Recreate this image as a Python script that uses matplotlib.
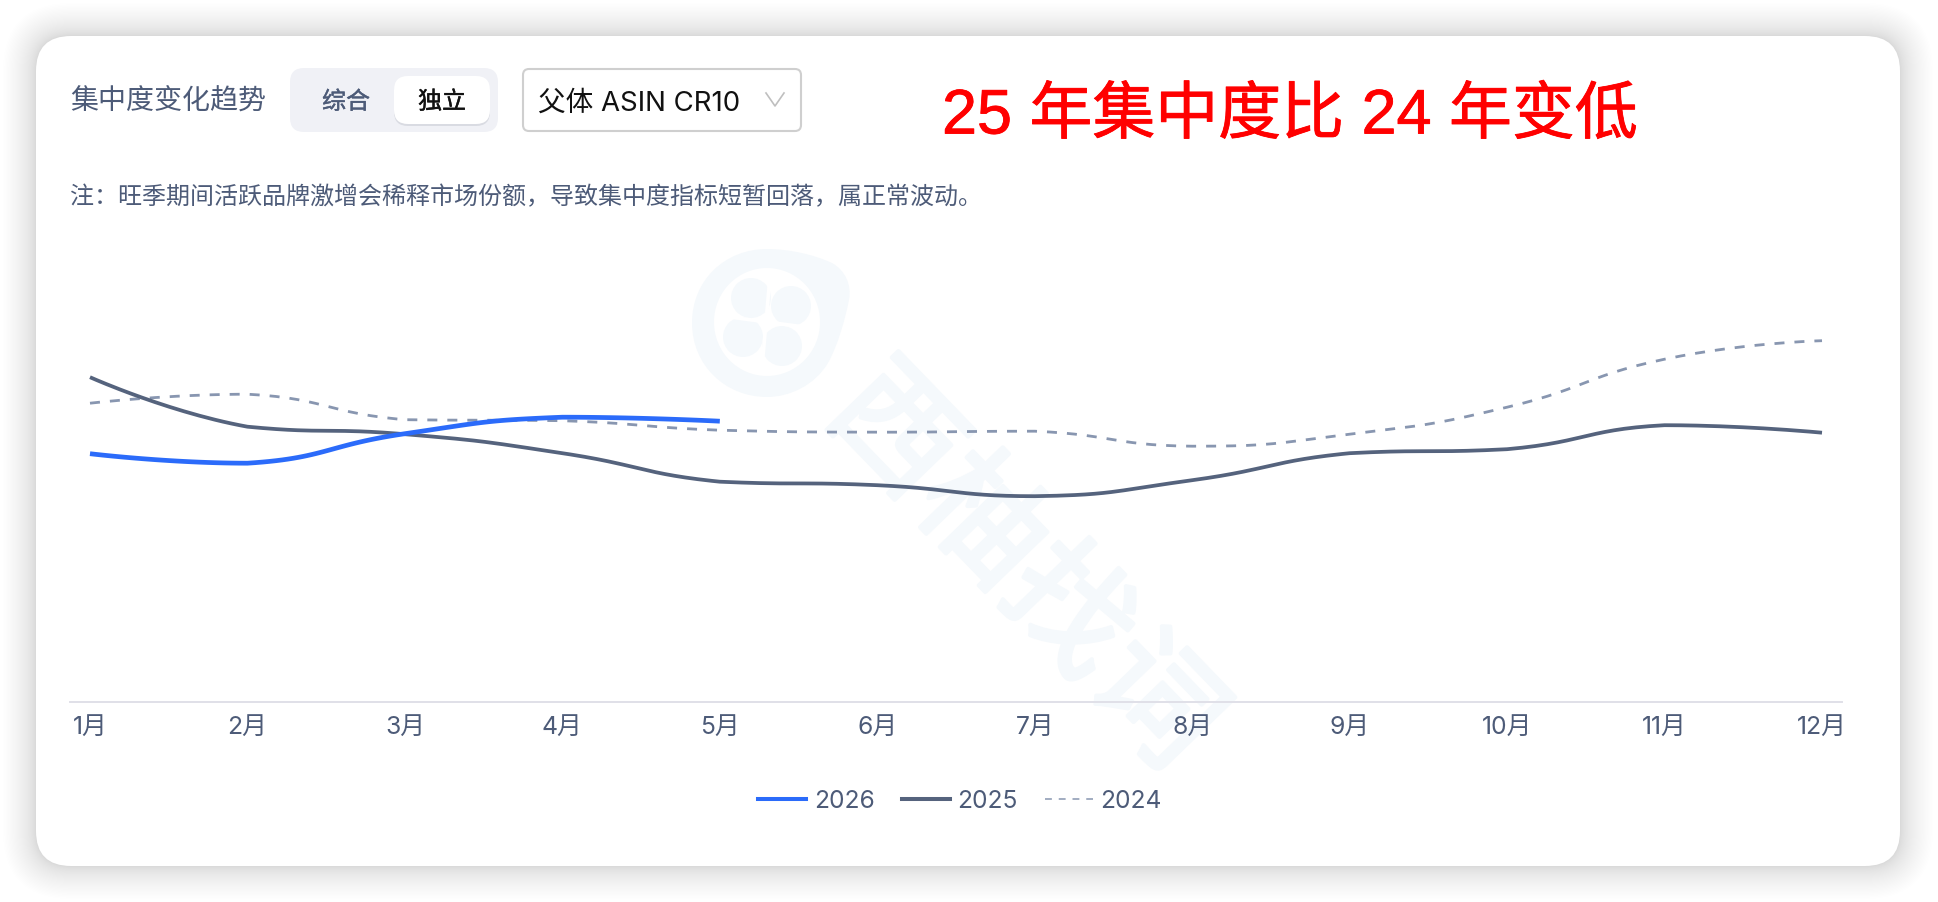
import numpy as np
import matplotlib
matplotlib.use('Agg')
import matplotlib.pyplot as plt
import matplotlib.patheffects as pe
from matplotlib.patches import FancyBboxPatch, Ellipse, PathPatch
from matplotlib.path import Path
from matplotlib.lines import Line2D

months = ['1月', '2月', '3月', '4月', '5月', '6月', '7月', '8月', '9月', '10月', '11月', '12月']
vals_2026 = [49.6, 47.7, 53.6, 56.9, 56.1]
vals_2025 = [64.9, 55.0, 53.5, 49.7, 44.0, 43.3, 41.1, 44.3, 49.7, 50.5, 55.3, 53.8]
vals_2024 = [59.7, 61.5, 56.4, 56.2, 54.3, 53.9, 54.1, 51.1, 53.5, 58.9, 68.5, 72.2]
year_labels = ['2026', '2025', '2024']

CJK = ['Inter', 'Noto Sans CJK SC', 'DejaVu Sans']
SLATE = '#4d5b78'
BLUE = '#2b6bfa'
DARK = '#55637d'
DASH = '#8896b0'
MARK = '#f5f9fc'


# same idea as a smooth line in a web chart: bezier between the monthly values
def smooth(vals, s=0.5, n=30):
    vals = np.array(vals, dtype=float)
    xs, ys = [], []
    for i in range(len(vals) - 1):
        y0, y1 = vals[i], vals[i + 1]
        m0 = 0 if i == 0 else (y1 - vals[i - 1]) / 2
        m1 = 0 if i == len(vals) - 2 else (vals[i + 2] - y0) / 2
        lo, hi = min(y0, y1), max(y0, y1)
        c0 = np.clip(y0 + s * m0, lo, hi)
        c1 = np.clip(y1 - s * m1, lo, hi)
        x_c0 = i + (0 if i == 0 else s)
        x_c1 = i + 1 - (0 if i == len(vals) - 2 else s)
        t = np.linspace(0, 1, n)
        xs.extend((1-t)**3*i + 3*(1-t)**2*t*x_c0 + 3*(1-t)*t**2*x_c1 + t**3*(i+1))
        ys.extend((1-t)**3*y0 + 3*(1-t)**2*t*c0 + 3*(1-t)*t**2*c1 + t**3*y1)
    return xs, ys


def rbox(bg, x0, y0, x1, y1, r, **kw):
    p = FancyBboxPatch((x0, y0), x1 - x0, y1 - y0,
                       boxstyle=f'round,pad=0,rounding_size={r}', **kw)
    bg.add_patch(p)
    return p


def heavier(color, w):
    return [pe.withStroke(linewidth=w, foreground=color)]


fig = plt.figure(figsize=(19.38, 9.02), dpi=100, facecolor='white')

# page layer in pixel coordinates
bg = fig.add_axes([0, 0, 1, 1], zorder=0)
bg.set_xlim(0, 1938)
bg.set_ylim(902, 0)
bg.axis('off')

# card with its shadow, steps packed near the edge so it fades out softly
for i in range(40, 0, -1):
    k = 33 * (i / 40) ** 1.7
    rbox(bg, 36 - k, 36 - k, 1900 + k, 866 + k, 35 + k, fc='black', ec='none', alpha=0.0048)
rbox(bg, 36, 36, 1900, 866, 35, fc='white', ec='none')

# watermark
verts = [(692, 323), (692, 280), (725, 249), (767, 249), (790, 249), (815, 255), (832, 263),
         (845, 270), (852, 285), (849, 300), (845, 320), (838, 345), (828, 363),
         (815, 385), (790, 397), (767, 397), (725, 397), (692, 365), (692, 323)]
codes = [Path.MOVETO] + [Path.CURVE4] * 18
bg.add_patch(PathPatch(Path(verts, codes), fc=MARK, ec='none'))
bg.add_patch(Ellipse((767, 322), 106, 108, fc='white', ec='none'))
for lx, ly in [(751, 298), (791, 306), (743, 337), (782, 346)]:
    bg.add_patch(Ellipse((lx, ly), 40, 40, fc=MARK, ec='none'))
bg.plot([770, 762], [276, 368], color='white', lw=2.6)
bg.plot([722, 812], [316, 328], color='white', lw=2.6)
bg.text(1021, 570, '西柚找词', rotation=-46, rotation_mode='anchor', ha='center', va='center',
        fontsize=90, color=MARK, family=CJK, path_effects=heavier(MARK, 3))

# header widgets
bg.text(70, 102.5, '集中度变化趋势', fontsize=20.2, color=SLATE, va='center', family=CJK)
rbox(bg, 290, 68, 498, 132, 14, fc='#f0f1f6', ec='none')
rbox(bg, 394, 78, 490, 126, 14, fc='#d9dbe2', ec='none')
rbox(bg, 394, 76, 490, 124, 14, fc='white', ec='none')
bg.text(346, 102.5, '综合', fontsize=17.3, color=SLATE, va='center', ha='center', family=CJK,
        path_effects=heavier(SLATE, 0.3))
bg.text(442, 102.5, '独立', fontsize=17.3, color='#111111', va='center', ha='center', family=CJK,
        path_effects=heavier('#111111', 0.3))
rbox(bg, 523, 69, 801, 131, 6, fc='white', ec='#cfcfcf', lw=1.5)
bg.text(538, 104, '父体 ASIN CR10', fontsize=19.9, color='#111111', va='center', family=CJK)
bg.plot([766, 775, 784], [93, 106, 93], color='#bfbfbf', lw=1.2)

bg.text(942, 117, '25 年集中度比 24 年变低', fontsize=45.3, color='#ff0000', va='center',
        family=['Liberation Sans', 'Noto Sans CJK SC'], path_effects=heavier('#ff0000', 0.6))
bg.text(70, 198, '注：旺季期间活跃品牌激增会稀释市场份额，导致集中度指标短暂回落，属正常波动。',
        fontsize=17.3, color=SLATE, va='center', family=CJK)

# chart
ax = fig.add_axes([70 / 1938, 1 - 701.7 / 902, 1772 / 1938, 500 / 902], zorder=1)
ax.patch.set_visible(False)
ax.set_xlim(-0.127, 11.127)
ax.set_ylim(0, 100)

xs, ys = smooth(vals_2024)
ax.plot(xs, ys, color=DASH, lw=2.0, dashes=(3.6, 3.6), zorder=2)
xs, ys = smooth(vals_2025)
ax.plot(xs, ys, color=DARK, lw=2.7, zorder=3, solid_capstyle='butt')
xs, ys = smooth(vals_2026)
ax.plot(xs, ys, color=BLUE, lw=3.4, zorder=4, solid_capstyle='butt')

for s in ['top', 'left', 'right']:
    ax.spines[s].set_visible(False)
ax.spines['bottom'].set_color('#e0e0e8')
ax.spines['bottom'].set_linewidth(1.4)
ax.set_yticks([])
ax.set_xticks(range(12))
ax.set_xticklabels(months, fontsize=17.8, color=SLATE, family=CJK)
ax.tick_params(axis='x', length=0, pad=10)

handles = [Line2D([], [], color=BLUE, lw=2.9),
           Line2D([], [], color=DARK, lw=2.9),
           Line2D([], [], color=DASH, lw=1.1, dashes=(4.5, 4.5))]
leg = ax.legend(handles, year_labels, ncol=3, frameon=False, loc='center',
                bbox_to_anchor=(890 / 1772, -99.5 / 500), borderpad=0,
                handlelength=1.95, handletextpad=0.32, columnspacing=1.1,
                prop={'family': CJK, 'size': 17.7})
for t in leg.get_texts():
    t.set_color(SLATE)

fig.savefig('out.png', dpi=100)
